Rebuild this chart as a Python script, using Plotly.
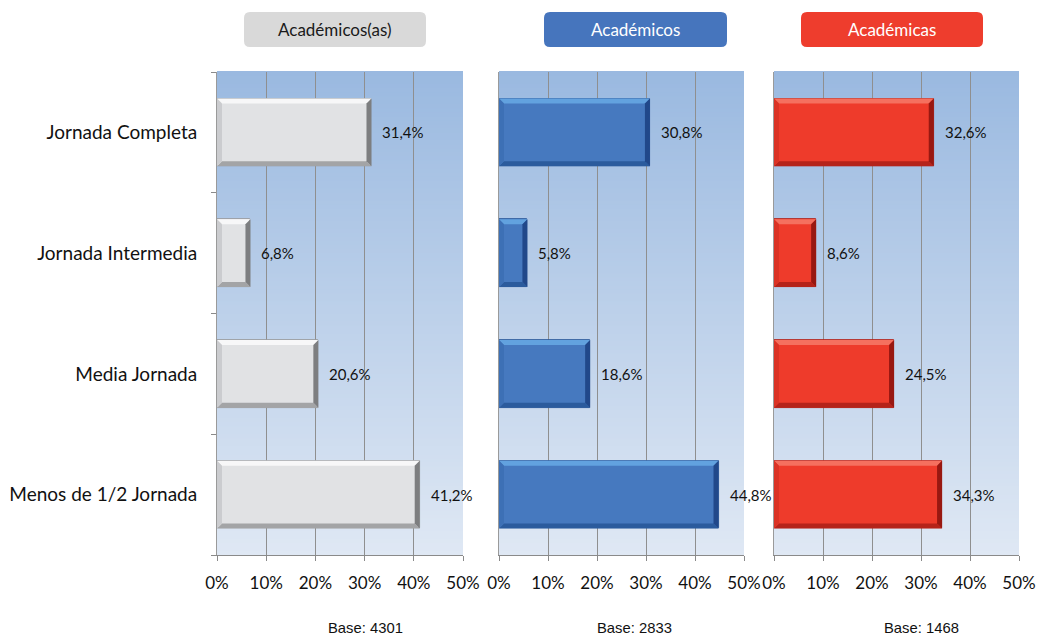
import plotly.graph_objects as go

# Distribución por tipo de jornada, en porcentaje
categorias = ["Jornada Completa", "Jornada Intermedia", "Media Jornada", "Menos de 1/2 Jornada"]
academicos_as = [31.4, 6.8, 20.6, 41.2]
academicos = [30.8, 5.8, 18.6, 44.8]
academicas = [32.6, 8.6, 24.5, 34.3]
titulos = ["Académicos(as)", "Académicos", "Académicas"]
bases = [4301, 2833, 1468]
ticks_x = [0, 10, 20, 30, 40, 50]

W, H = 1041, 637
FONT = "Lato"

# first category is drawn on top
posiciones = list(range(len(categorias) - 1, -1, -1))

paneles = [
    dict(valores=academicos_as, dom=(217, 463), base_x=365,
         cara="#e1e2e4", sup="#f7f7f8", inf="#a3a4a6", izq="#cbcccf", der="#7d7e80", borde="#8d8e90",
         caja="#d9d9d9", texto_caja="#1a1a1a"),
    dict(valores=academicos, dom=(499, 744), base_x=634,
         cara="#4679bf", sup="#62a2df", inf="#2b5b9d", izq="#3d70b5", der="#21488a", borde="#2a5595",
         caja="#4675bd", texto_caja="#ffffff"),
    dict(valores=academicas, dom=(774, 1019), base_x=921,
         cara="#ee3b2b", sup="#f5705f", inf="#b5231a", izq="#db3325", der="#981811", borde="#a81d15",
         caja="#ee3d2d", texto_caja="#ffffff"),
]

Y_TOP, Y_BOT = 72, 555
dom_y = [1 - Y_BOT / H, 1 - Y_TOP / H]
BAR_W = 0.56
media = BAR_W / 2


def px(x):
    return x / W


def py(y):
    return 1 - y / H


def caja_redondeada(x0, y0, x1, y1, r):
    a, b, c, d = px(x0), py(y0), px(x1), py(y1)
    rx, ry = r / W, r / H
    return (f"M {a + rx},{b} L {c - rx},{b} Q {c},{b} {c},{b - ry} "
            f"L {c},{d + ry} Q {c},{d} {c - rx},{d} L {a + rx},{d} "
            f"Q {a},{d} {a},{d + ry} L {a},{b - ry} Q {a},{b} {a + rx},{b} Z")


def mezcla(c1, c2, t):
    h1 = [int(c1[i:i + 2], 16) for i in (1, 3, 5)]
    h2 = [int(c2[i:i + 2], 16) for i in (1, 3, 5)]
    return "rgb({},{},{})".format(*[round(h1[k] + (h2[k] - h1[k]) * t) for k in range(3)])


fig = go.Figure()
shapes = []
annotations = []
layout = {}

FONDO_ARRIBA = "#9ab9e0"
FONDO_ABAJO = "#dfe8f4"
N_BANDAS = 120

for i, p in enumerate(paneles):
    n = "" if i == 0 else str(i + 1)
    xa, ya = "x" + n, "y" + n
    x0, x1 = p["dom"]
    ancho_px = x1 - x0
    bx = 5 / ancho_px * 50          # bevel width in % units
    by = 5 / ((Y_BOT - Y_TOP) / 4)  # bevel height in category units

    # vertical gradient background
    for k in range(N_BANDAS):
        t0, t1 = k / N_BANDAS, (k + 1) / N_BANDAS
        shapes.append(dict(type="rect", xref=xa + " domain", yref=ya + " domain",
                           x0=0, x1=1, y0=t0, y1=t1 + 0.002, layer="below",
                           fillcolor=mezcla(FONDO_ABAJO, FONDO_ARRIBA, (t0 + t1) / 2),
                           line=dict(width=0)))

    fig.add_trace(go.Bar(
        x=p["valores"], y=posiciones, orientation="h", width=BAR_W,
        marker=dict(color=p["cara"], line=dict(color=p["borde"], width=0.8)),
        xaxis=xa, yaxis=ya, hoverinfo="skip", showlegend=False,
    ))

    # bevelled edges of every bar
    for v, c in zip(p["valores"], posiciones):
        top, bot = c + media, c - media
        caras = [
            (p["sup"], [(0, top), (v, top), (v - bx, top - by), (bx, top - by)]),
            (p["inf"], [(0, bot), (v, bot), (v - bx, bot + by), (bx, bot + by)]),
            (p["izq"], [(0, top), (0, bot), (bx, bot + by), (bx, top - by)]),
            (p["der"], [(v, top), (v, bot), (v - bx, bot + by), (v - bx, top - by)]),
        ]
        for color, pts in caras:
            path = "M " + " L ".join(f"{a},{b}" for a, b in pts) + " Z"
            shapes.append(dict(type="path", xref=xa, yref=ya, path=path,
                               fillcolor=color, line=dict(width=0), layer="above"))
        annotations.append(dict(
            x=v, y=c, xref=xa, yref=ya, xanchor="left", yanchor="middle", xshift=9,
            text=f"{v:.1f}".replace(".", ",") + "%", showarrow=False,
            font=dict(family=FONT, size=15, color="#111111")))

    layout["xaxis" + n] = dict(
        domain=[px(x0), px(x1)], range=[0, 50], anchor=ya, automargin=False,
        tickvals=ticks_x, ticktext=[f"{t}%" for t in ticks_x],
        showgrid=True, gridcolor="#8f8f8f", gridwidth=1, zeroline=False,
        showline=True, linecolor="#8a8a8a", linewidth=1,
        ticks="outside", ticklen=5, tickcolor="#8a8a8a", ticklabelstandoff=8,
        tickfont=dict(family=FONT, size=17, color="#111111"), fixedrange=True,
    )
    layout["yaxis" + n] = dict(
        domain=dom_y, range=[-0.5, 3.5], anchor=xa, automargin=False,
        tickvals=posiciones, ticktext=categorias,
        showticklabels=(i == 0), ticks="", showgrid=False, zeroline=False,
        showline=True, linecolor="#9a9a9a", linewidth=1,
        ticklabelstandoff=15,
        minor=dict(tickvals=[-0.5, 0.5, 1.5, 2.5, 3.5], ticks="outside" if i == 0 else "",
                   ticklen=5, tickcolor="#8a8a8a", showgrid=False),
        tickfont=dict(family=FONT, size=19, color="#111111"), fixedrange=True,
    )

    # title box above the panel
    bx0, bx1 = [(244, 426), (544, 727), (801, 983)][i]
    shapes.append(dict(type="path", xref="paper", yref="paper",
                       path=caja_redondeada(bx0, 12, bx1, 47, 6),
                       fillcolor=p["caja"], line=dict(width=0)))
    annotations.append(dict(x=px((bx0 + bx1) / 2), y=py(30), xref="paper", yref="paper",
                            text=titulos[i], showarrow=False, xanchor="center", yanchor="middle",
                            font=dict(family=FONT, size=17, color=p["texto_caja"])))

    # sample size under the panel
    annotations.append(dict(x=px(p["base_x"]), y=py(628), xref="paper", yref="paper",
                            text=f"Base: {bases[i]}", showarrow=False,
                            xanchor="center", yanchor="middle",
                            font=dict(family="Liberation Sans", size=14.8, color="#111111")))

fig.update_layout(
    width=W, height=H, margin=dict(l=0, r=0, t=0, b=0, autoexpand=False),
    paper_bgcolor="#ffffff", plot_bgcolor="#ffffff",
    shapes=shapes, annotations=annotations, bargap=0, **layout,
)

fig.write_html("out.html")
